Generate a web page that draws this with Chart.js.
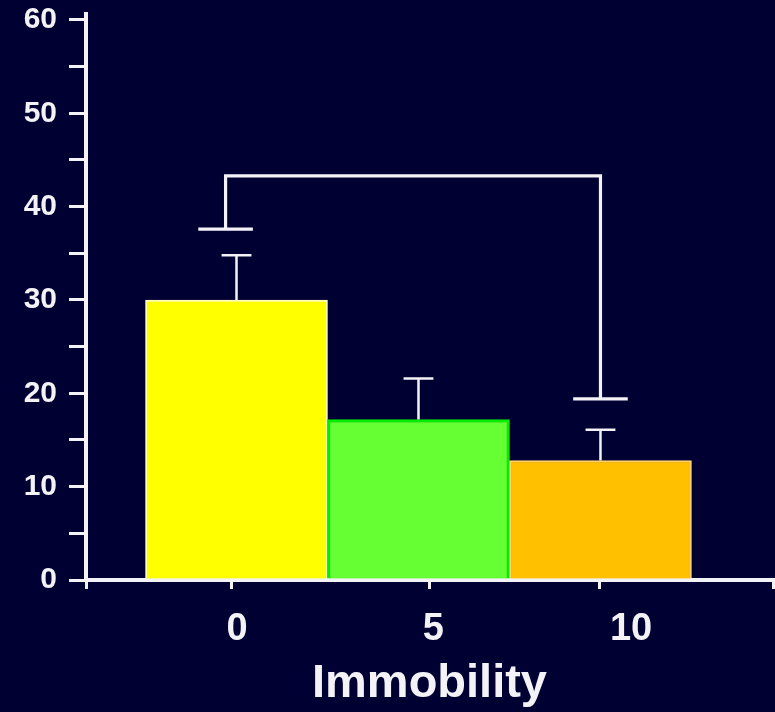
<!DOCTYPE html>
<html>
<head>
<meta charset="utf-8">
<script src="https://cdn.jsdelivr.net/npm/chart.js@4"></script>
<style>
  html, body { margin: 0; padding: 0; background: #000033; }
  #wrap { width: 775px; height: 712px; }
</style>
</head>
<body>
<div id="wrap"><canvas id="chart"></canvas></div>
<script>
// Immobility groups and their mean values
const groups = ["0", "5", "10"];
const groupPos = [0, 1, 2];
const meanValues = [30.0, 17.2, 12.8];
// Upper end of each error bar
const errorTop = [34.8, 21.6, 16.1];
// Significance bracket between group 0 and group 10
const bracketPos = [-0.06, 2.0];
const bracketTop = 43.3;
const bracketEnds = [37.6, 19.4];
// Axis ticks
const yTicks = [0, 5, 10, 15, 20, 25, 30, 35, 40, 45, 50, 55, 60];
const xTickLabels = ["0", "5", "10"];

const barFill = ["#ffff00", "#66ff33", "#ffc000"];
const barEdge = ["#ffffb0", "#00ee00", "#ffcf70"];
const ink = "#f2f2f7";
const font = "'Liberation Sans', Arial, sans-serif";

// x range used by all three bottom axes
const X_MIN = -0.827;
const X_MAX = 2.948;

// Error bars and the bracket, drawn in data units
const errorBars = {
  id: "errorBars",
  afterDatasetsDraw(chart) {
    const { ctx, scales: { x, y } } = chart;
    const unit = x.getPixelForValue(1) - x.getPixelForValue(0);
    ctx.save();
    ctx.strokeStyle = ink;
    ctx.lineCap = "butt";

    ctx.lineWidth = 2.5;
    groupPos.forEach((p, i) => {
      const px = x.getPixelForValue(p);
      const y0 = y.getPixelForValue(meanValues[i]);
      const y1 = y.getPixelForValue(errorTop[i]);
      const cap = unit * 0.082;
      ctx.beginPath();
      ctx.moveTo(px, y0);
      ctx.lineTo(px, y1);
      ctx.moveTo(px - cap, y1);
      ctx.lineTo(px + cap, y1);
      ctx.stroke();
    });

    ctx.lineWidth = 3.2;
    const bx0 = x.getPixelForValue(bracketPos[0]);
    const bx1 = x.getPixelForValue(bracketPos[1]);
    const by = y.getPixelForValue(bracketTop);
    const e0 = y.getPixelForValue(bracketEnds[0]);
    const e1 = y.getPixelForValue(bracketEnds[1]);
    const cap = unit * 0.15;
    ctx.beginPath();
    ctx.moveTo(bx0, e0);
    ctx.lineTo(bx0, by);
    ctx.lineTo(bx1, by);
    ctx.lineTo(bx1, e1);
    ctx.moveTo(bx0 - cap, e0);
    ctx.lineTo(bx0 + cap, e0);
    ctx.moveTo(bx1 - cap, e1);
    ctx.lineTo(bx1 + cap, e1);
    ctx.stroke();
    ctx.restore();
  },
};

const ctx = document.getElementById("chart").getContext("2d");

new Chart(ctx, {
  type: "bar",
  data: {
    datasets: [
      {
        data: groupPos.map((p, i) => ({ x: p, y: meanValues[i] })),
        backgroundColor: barFill,
        borderColor: barEdge,
        borderWidth: [2, 3, 2],
        barPercentage: 1,
        categoryPercentage: 1,
      },
    ],
  },
  options: {
    responsive: true,
    maintainAspectRatio: false,
    animation: false,
    layout: { padding: { top: 14, right: 2, left: 0, bottom: 0 } },
    plugins: {
      legend: { display: false },
      tooltip: { enabled: false },
    },
    scales: {
      // axis the bars sit on
      x: {
        type: "linear",
        display: false,
        min: X_MIN,
        max: X_MAX,
        offset: false,
        grid: { offset: false },
        afterBuildTicks: (s) => {
          s.ticks = [{ value: X_MIN }, { value: X_MAX }];
        },
      },
      // axis line and tick marks
      xMarks: {
        type: "linear",
        position: "bottom",
        weight: 0,
        min: X_MIN,
        max: X_MAX,
        offset: false,
        border: { display: true, color: ink, width: 4 },
        grid: {
          offset: false,
          drawOnChartArea: false,
          drawTicks: true,
          tickLength: 9,
          lineWidth: 3,
          color: ink,
        },
        ticks: { display: false },
        afterBuildTicks: (s) => {
          s.ticks = [X_MIN, -0.03, 1.063, 1.997, X_MAX].map((v) => ({ value: v }));
        },
        afterFit: (s) => {
          s.height = 10;
        },
      },
      // group labels and axis title
      xLabels: {
        type: "linear",
        position: "bottom",
        weight: 1,
        min: X_MIN,
        max: X_MAX,
        offset: false,
        border: { display: false },
        grid: { display: false, drawTicks: false, offset: false },
        ticks: {
          color: ink,
          padding: 17,
          maxRotation: 0,
          autoSkip: false,
          font: { family: font, size: 38, weight: "bold" },
          callback: (v, i) => xTickLabels[i],
        },
        afterBuildTicks: (s) => {
          s.ticks = [0.003, 1.082, 2.168].map((v) => ({ value: v }));
        },
        title: {
          display: true,
          text: "Immobility",
          color: ink,
          padding: { top: 0, bottom: 0 },
          font: { family: font, size: 47, weight: "bold" },
        },
        afterFit: (s) => {
          s.height = 122;
        },
      },
      y: {
        min: 0,
        max: 60.64,
        border: { display: true, color: ink, width: 4 },
        grid: {
          drawOnChartArea: false,
          drawTicks: true,
          tickLength: 17,
          lineWidth: 3,
          color: ink,
        },
        ticks: {
          color: ink,
          padding: 12,
          font: { family: font, size: 30, weight: "bold", lineHeight: 1 },
          callback: (v) => (v % 10 === 0 ? String(v) : ""),
        },
        afterBuildTicks: (s) => {
          s.ticks = yTicks.map((v) => ({ value: v }));
        },
        afterFit: (s) => {
          s.width = 86;
          s.paddingTop = 0;
          s.paddingBottom = 0;
        },
      },
    },
  },
  plugins: [errorBars],
});
</script>
</body>
</html>
